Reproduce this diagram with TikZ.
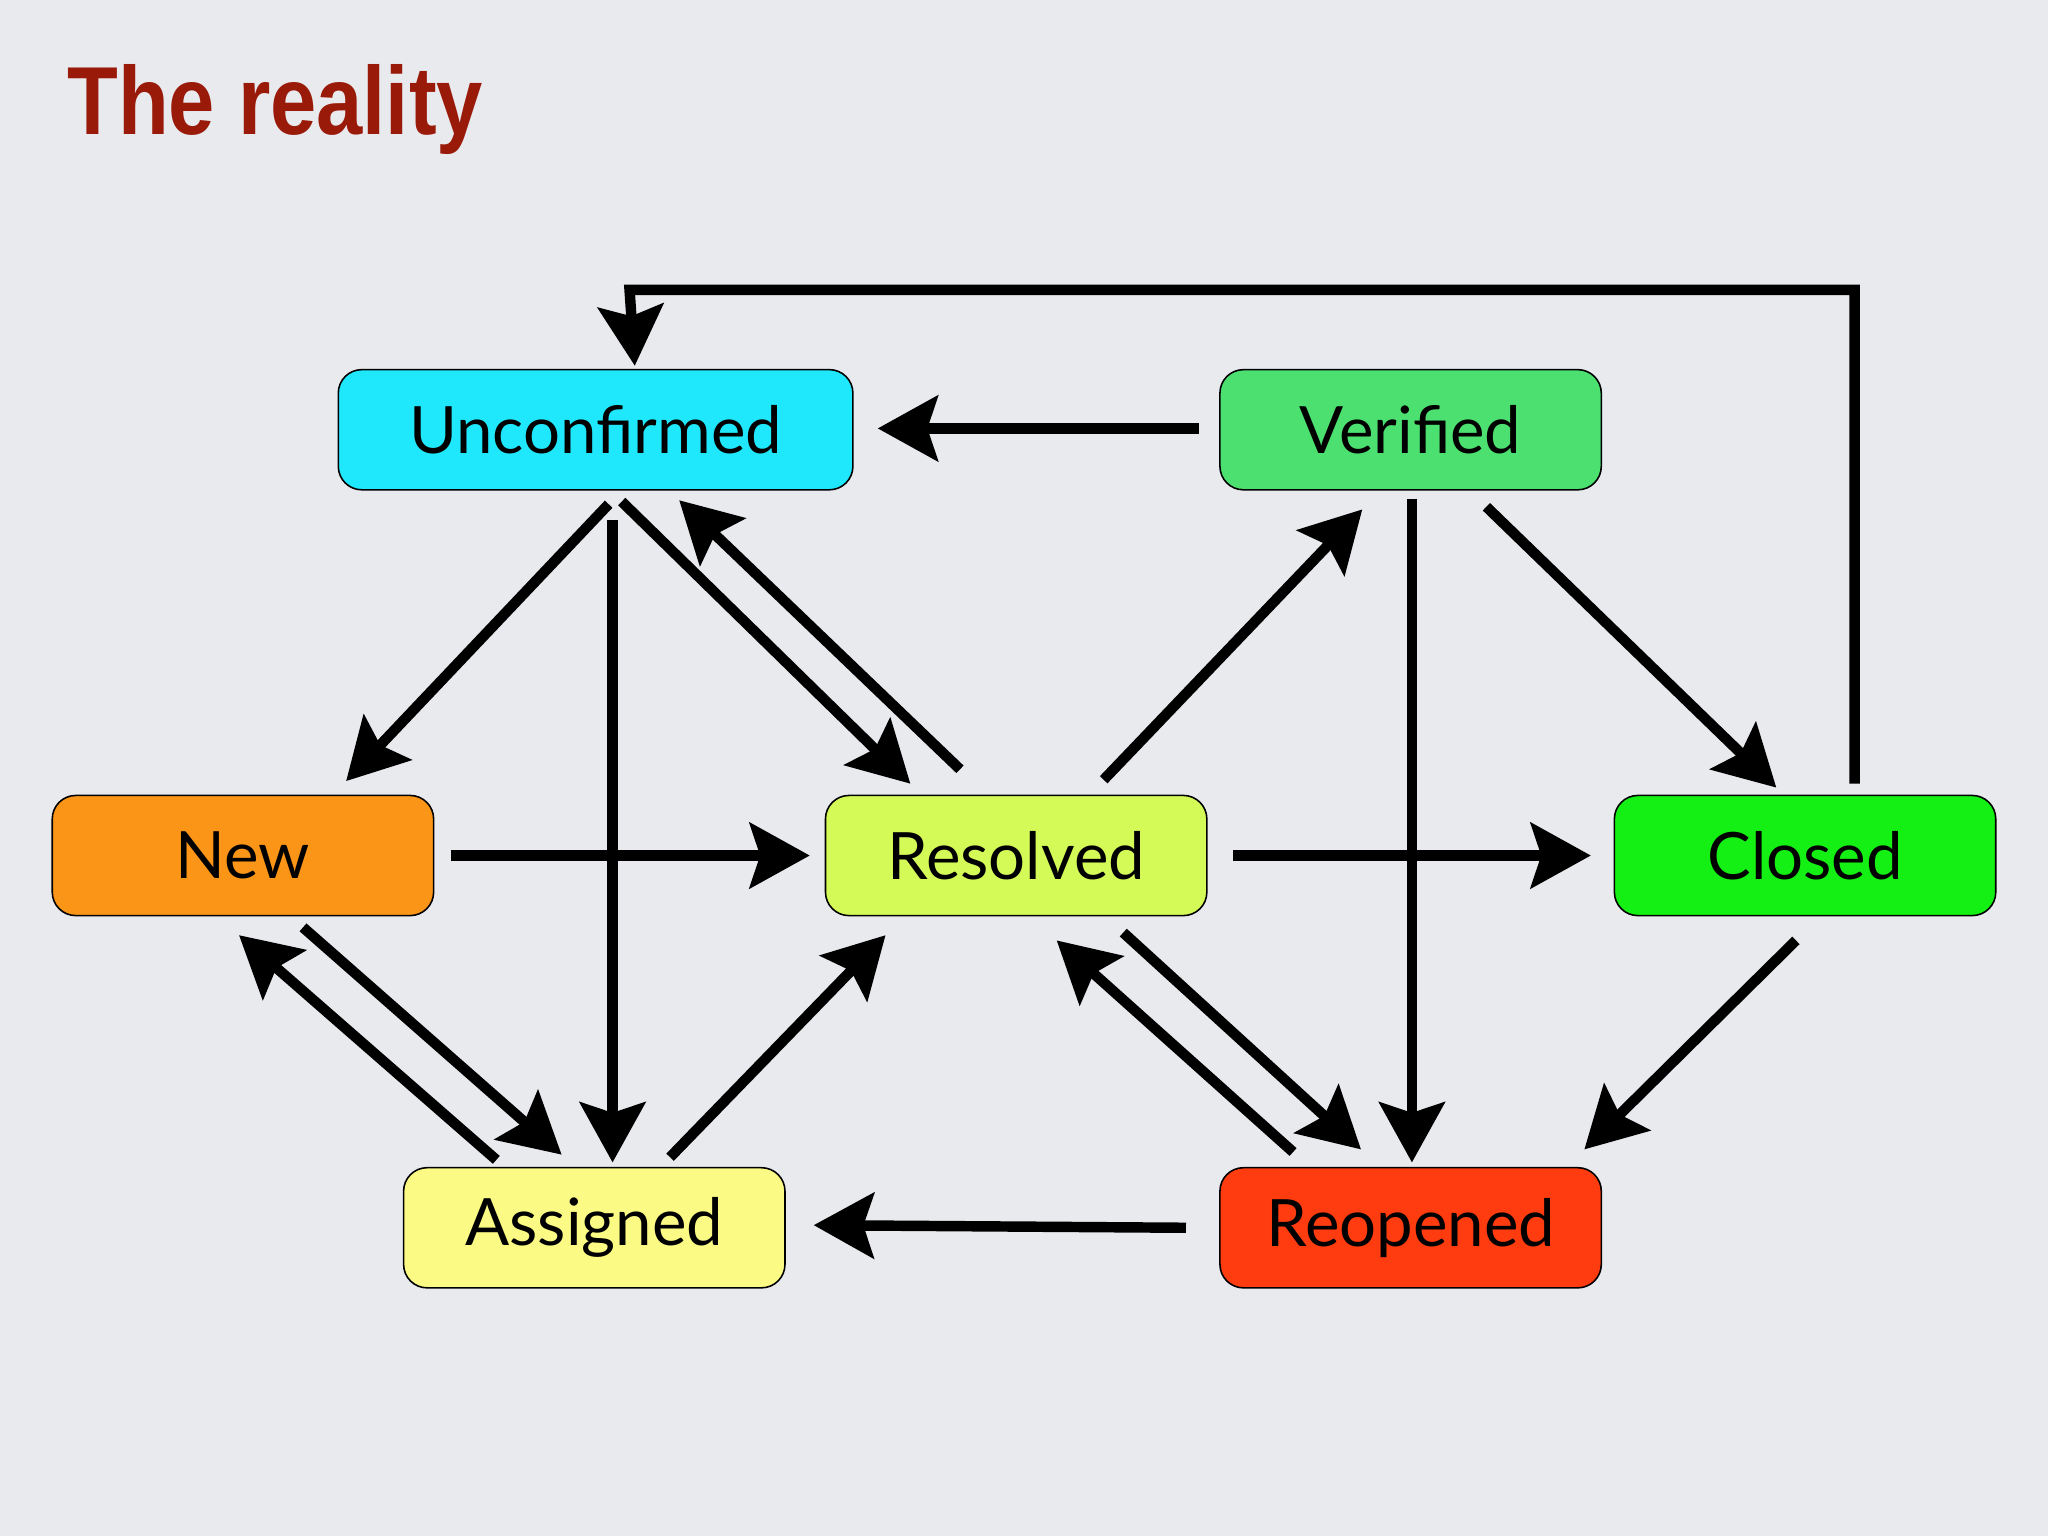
\documentclass[tikz,border=0pt]{standalone}
\usepackage{fontspec}
\setmainfont{Lato}
\newfontfamily\titlefont{Liberation Sans}
\usetikzlibrary{arrows.meta}
\definecolor{bg}{HTML}{E8EAEE}
\definecolor{ttl}{HTML}{9A1A0A}
\definecolor{cU}{HTML}{20E8FC}
\definecolor{cV}{HTML}{4CE070}
\definecolor{cN}{HTML}{FA9518}
\definecolor{cR}{HTML}{D4FA58}
\definecolor{cC}{HTML}{14F014}
\definecolor{cA}{HTML}{FAFA84}
\definecolor{cO}{HTML}{FF3C10}
\tikzset{
 state/.style={draw=black, line width=1.2pt, rounded corners=18pt, minimum height=92pt, inner sep=0pt, font=\fontsize{50}{54}\selectfont},
 arr/.style={line width=8pt, -{Stealth[length=46pt,width=50pt,inset=8pt]}}
}
\begin{document}
\begin{tikzpicture}[x=1pt,y=-1pt]
\fill[bg] (0,0) rectangle (1568,1176);
\node[anchor=west, text=ttl, font=\titlefont\bfseries\fontsize{74}{78}\selectfont] (title) at (48,84) {\scalebox{0.86}[1]{The reality}};
\node[state, fill=cU, minimum width=394pt] (U) at (456,329) {Unconfirmed};
\node[state, fill=cV, minimum width=292pt] (V) at (1080,329) {Verified};
\node[state, fill=cN, minimum width=292pt] (N) at (186,655) {New};
\node[state, fill=cR, minimum width=292pt] (R) at (778,655) {Resolved};
\node[state, fill=cC, minimum width=292pt] (C) at (1382,655) {Closed};
\node[state, fill=cA, minimum width=292pt] (A) at (455,940) {Assigned};
\node[state, fill=cO, minimum width=292pt] (O) at (1080,940) {Reopened};
% endpoints
\coordinate (v1) at (918,328); \coordinate (u1) at (672,328);
\coordinate (c2) at (1420,600); \coordinate (t1) at (1420,222); \coordinate (t2) at (482,222); \coordinate (u2) at (486,280);
\coordinate (u3) at (466,386); \coordinate (n3) at (265,598);
\coordinate (u4) at (469,398); \coordinate (a4) at (469,890);
\coordinate (u5) at (476,384); \coordinate (r5) at (697,600);
\coordinate (r6) at (735,589); \coordinate (u6) at (520,383);
\coordinate (n7) at (345,655); \coordinate (r7) at (620,655);
\coordinate (n8) at (232,710); \coordinate (a8) at (430,884);
\coordinate (a9) at (380,888); \coordinate (n9) at (183,716);
\coordinate (a10) at (513,886); \coordinate (r10) at (678,716);
\coordinate (r11) at (845,597); \coordinate (v11) at (1043,390);
\coordinate (v12) at (1081,382); \coordinate (o12) at (1081,890);
\coordinate (v13) at (1138,388); \coordinate (c13) at (1360,603);
\coordinate (r14) at (944,655); \coordinate (c14) at (1218,655);
\coordinate (r15) at (860,714); \coordinate (o15) at (1042,880);
\coordinate (o16) at (990,882); \coordinate (r16) at (809,720);
\coordinate (c17) at (1375,720); \coordinate (o17) at (1213,880);
\coordinate (o18) at (908,940); \coordinate (a18) at (623,938);
\draw[arr] (v1) -- (u1);
\draw[arr] (c2) -- (t1) -- (t2) -- (u2);
\draw[arr] (u3) -- (n3);
\draw[arr] (u4) -- (a4);
\draw[arr] (u5) -- (r5);
\draw[arr] (r6) -- (u6);
\draw[arr] (n7) -- (r7);
\draw[arr] (n8) -- (a8);
\draw[arr] (a9) -- (n9);
\draw[arr] (a10) -- (r10);
\draw[arr] (r11) -- (v11);
\draw[arr] (v12) -- (o12);
\draw[arr] (v13) -- (c13);
\draw[arr] (r14) -- (c14);
\draw[arr] (r15) -- (o15);
\draw[arr] (o16) -- (r16);
\draw[arr] (c17) -- (o17);
\draw[arr] (o18) -- (a18);
\end{tikzpicture}
\end{document}
